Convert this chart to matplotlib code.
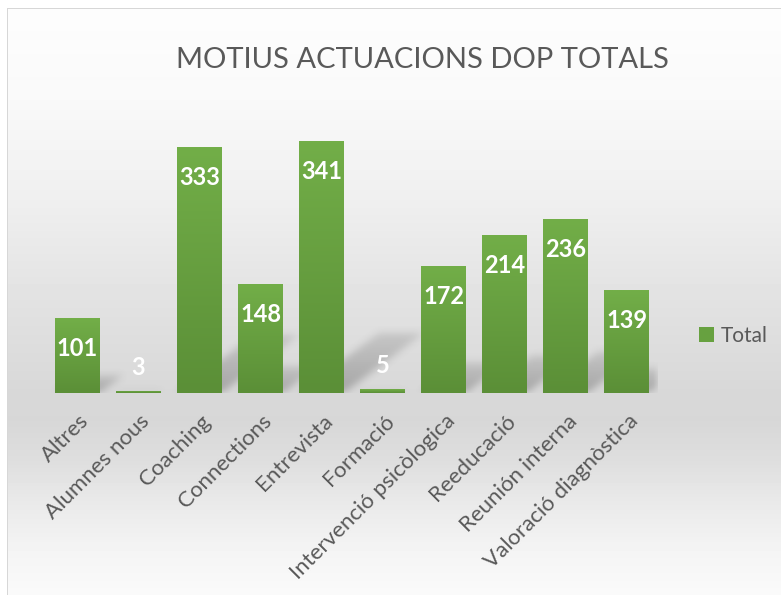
import numpy as np
import matplotlib
matplotlib.use("Agg")
import matplotlib.pyplot as plt
from matplotlib.colors import to_rgb
from matplotlib.transforms import ScaledTranslation

plt.rcParams['font.family'] = ['Lato', 'DejaVu Sans']

categories = ["Altres", "Alumnes nous", "Coaching", "Connections", "Entrevista",
              "Formació", "Intervenció psicòlogica", "Reeducació",
              "Reunión interna", "Valoració diagnòstica"]
totals = [101, 3, 333, 148, 341, 5, 172, 214, 236, 139]
series_name = "Total"
title = "MOTIUS ACTUACIONS DOP TOTALS"

W, H = 781, 595
fig = plt.figure(figsize=(W / 100, H / 100), dpi=100)

# background: light gray vertical gradient inside a thin frame
bg = fig.add_axes([0, 0, 1, 1], zorder=-10)
rows = np.arange(H)
col = np.interp(rows, [8, 100, 200, 300, 390, 420, 460, 500, 550, 595],
                [253, 249, 239, 226, 216, 215, 222, 233, 244, 250]) / 255
img = np.repeat(col[:, None], W, axis=1)
img[:8, :] = 1
img[:, :7] = 1
img[8, 7:] = 0.84
img[8:, 7] = 0.84
bg.imshow(img, cmap='gray', vmin=0, vmax=1, extent=(0, W, H, 0),
          aspect='auto', interpolation='nearest')
bg.set_xlim(0, W)
bg.set_ylim(H, 0)
bg.axis('off')

ax = fig.add_axes([47 / W, (H - 393) / H, 610.5 / W, 295.6 / H])
ax.patch.set_alpha(0)
x = np.arange(len(categories))
bw = 0.737
bars = ax.bar(x, totals, width=bw, color='#67a140', zorder=3, label=series_name)

# green gradient on each bar
top = np.array(to_rgb('#72ae48'))
bot = np.array(to_rgb('#5b8f37'))
t = np.linspace(0, 1, 64)[:, None, None]
grad = top + (bot - top) * t
for b in bars:
    x0, h = b.get_x(), b.get_height()
    im = ax.imshow(grad, extent=(x0, x0 + b.get_width(), 0, h), aspect='auto',
                   zorder=4, interpolation='bilinear')
    im.set_clip_path(b)

# soft perspective shadows behind the bars
gx = np.linspace(-0.5, 9.5, 620)
gy = np.linspace(0, 400, 300)
X, Y = np.meshgrid(gx, gy)
shade = np.zeros_like(X)
for xi, h in zip(x, totals):
    dx, dy = 0.0038 * h, 0.236 * h
    tt = Y / dy
    xs = X - tt * dx
    inside = (tt <= 1) & (xs >= xi - bw / 2) & (xs <= xi + bw / 2)
    shade = np.maximum(shade, np.where(inside, 1 - 0.55 * tt, 0))
k = np.ones(9) / 9
for _ in range(2):
    shade = np.apply_along_axis(lambda r: np.convolve(r, k, mode='same'), 1, shade)
    shade = np.apply_along_axis(lambda c: np.convolve(c, k, mode='same'), 0, shade)
rgba = np.zeros(shade.shape + (4,))
rgba[..., :3] = 0.35
rgba[..., 3] = shade * 0.4
ax.imshow(rgba, extent=(-0.5, 9.5, 0, 400), origin='lower', aspect='auto',
          zorder=1, interpolation='bilinear')

ax.set_xlim(-0.5, 9.5)
ax.set_ylim(0, 400)

# data labels
for xi, v in zip(x, totals):
    off = -27.4 if v > 40 else 11.5
    ax.annotate(str(v), (xi, v), xytext=(0, off), textcoords='offset points',
                ha='center', va='baseline', color='white', fontsize=17,
                fontweight='bold', zorder=6)

ax.set_xticks(x, categories, rotation=45, ha='right', va='top',
              rotation_mode='anchor', fontsize=16, color='#595959')
ax.tick_params(axis='x', length=0, pad=13)
shift = ScaledTranslation(1 / 100, 0, fig.dpi_scale_trans)
for lab in ax.get_xticklabels():
    lab.set_transform(lab.get_transform() + shift)
ax.set_yticks([])
for s in ax.spines.values():
    s.set_visible(False)

fig.text(422 / W, 1 - 68 / H, title, ha='center', va='baseline',
         fontsize=21, color='#595959')

ax.legend(loc='center left', bbox_to_anchor=(699 / W, 1 - 336 / H),
          bbox_transform=fig.transFigure, frameon=False, fontsize=15,
          handlelength=0.7, handleheight=0.7, handletextpad=0.35,
          borderpad=0, borderaxespad=0, labelcolor='#595959')

fig.savefig("out.png", dpi=100)
